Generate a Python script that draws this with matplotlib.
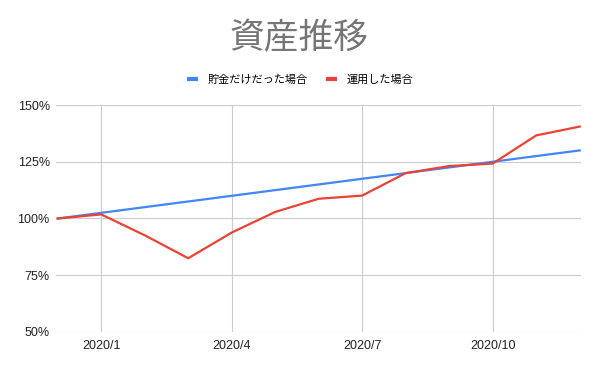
import matplotlib.pyplot as plt
from matplotlib.lines import Line2D

plt.rcParams['font.family'] = ['Noto Sans CJK JP', 'DejaVu Sans']

months = ['2019/12', '2020/1', '2020/2', '2020/3', '2020/4', '2020/5', '2020/6',
          '2020/7', '2020/8', '2020/9', '2020/10', '2020/11', '2020/12']
savings = [100, 102.5, 105, 107.5, 110, 112.5, 115, 117.5, 120, 122.5, 125, 127.5, 130]
invested = [100, 101.8, 92.6, 82.5, 93.8, 102.9, 108.7, 110.1, 120.0, 123.1, 124.2, 136.6, 140.5]
series_names = ['貯金だけだった場合', '運用した場合']
colors = ['#4285F4', '#EA4335']
tick_months = ['2020/1', '2020/4', '2020/7', '2020/10']
y_ticks = [50, 75, 100, 125, 150]

fig = plt.figure(figsize=(6, 3.71), dpi=100)
ax = fig.add_axes([56 / 600, 1 - 332 / 371, 525 / 600, 227 / 371])

x = list(range(len(months)))
ax.plot(x, savings, color=colors[0], linewidth=1.6, zorder=3)
ax.plot(x, invested, color=colors[1], linewidth=1.6, zorder=4)

ax.set_xlim(-0.04, 12.03)
ax.set_ylim(50, 150)

ax.set_yticks(y_ticks)
ax.set_yticklabels([f'{v}%' for v in y_ticks], family='Liberation Sans',
                   fontsize=9, color='#222222')
ax.set_xticks([months.index(m) for m in tick_months])
ax.set_xticklabels(tick_months, family='Liberation Sans', fontsize=9, color='#222222')
ax.tick_params(length=0)
ax.tick_params(axis='x', pad=5.5)
ax.tick_params(axis='y', pad=4.5)

ax.grid(True, color='#cccccc', linewidth=0.8)
ax.set_axisbelow(True)
for s in ax.spines.values():
    s.set_visible(False)

fig.text(299 / 600, 1 - 39 / 371, '資産推移', ha='center', va='center',
         fontsize=25, color='#757575')

handles = [Line2D([], [], color=c, linewidth=3, solid_capstyle='butt') for c in colors]
fig.legend(handles, series_names, loc='center', bbox_to_anchor=(300 / 600, 1 - 80 / 371),
           ncol=2, frameon=False, fontsize=8, handlelength=1.0, handletextpad=0.8,
           columnspacing=1.7, borderpad=0, borderaxespad=0)

fig.savefig('out.png', dpi=100)
